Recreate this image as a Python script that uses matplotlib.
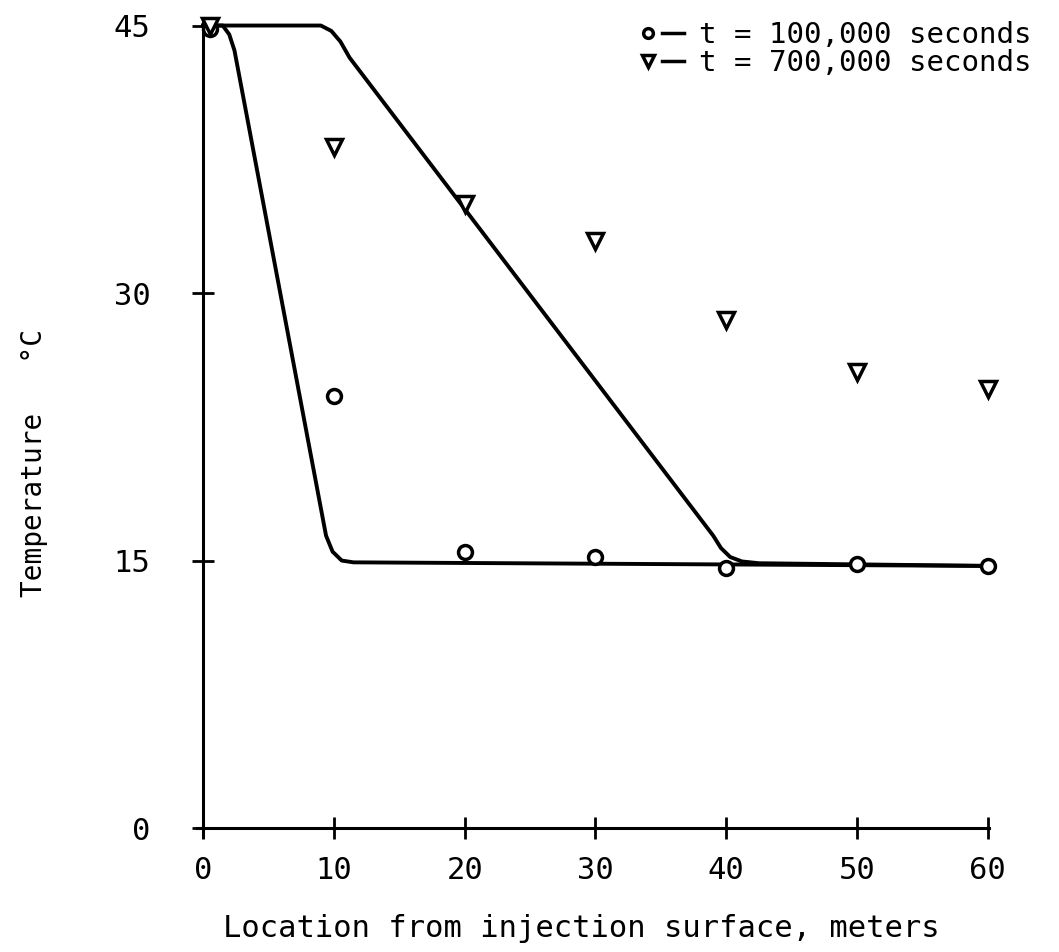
import matplotlib
matplotlib.use("Agg")
import matplotlib.pyplot as plt
from matplotlib.lines import Line2D
from matplotlib.legend_handler import HandlerTuple

# measured points
x_pts = [0.5, 10, 20, 30, 40, 50, 60]
t100k_pts = [44.8, 24.2, 15.5, 15.2, 14.6, 14.8, 14.7]
t700k_pts = [45.0, 38.2, 35.0, 32.9, 28.5, 25.6, 24.6]

# computed curves
x_curve1 = [0, 1.5, 2.0, 2.4, 9.4, 9.9, 10.6, 11.5, 60]
y_curve1 = [45, 45, 44.5, 43.6, 16.4, 15.5, 15.0, 14.9, 14.7]
x_curve2 = [0, 9.0, 9.8, 10.5, 11.2, 39.0, 39.6, 40.3, 41.2, 42.5, 60]
y_curve2 = [45, 45, 44.7, 44.1, 43.2, 16.4, 15.7, 15.2, 14.95, 14.85, 14.7]

xticks = [0, 10, 20, 30, 40, 50, 60]
yticks = [0, 15, 30, 45]

plt.rcParams['font.family'] = ['DejaVu Sans Mono', 'DejaVu Sans']

fig = plt.figure(figsize=(10.59, 9.52), dpi=100)
ax = fig.add_axes([0.1856, 0.1208, 0.7484, 0.858])

ax.plot(x_curve1, y_curve1, color='black', lw=2.8, solid_joinstyle='round')
ax.plot(x_curve2, y_curve2, color='black', lw=2.8, solid_joinstyle='round')
ax.plot(x_pts, t100k_pts, 'o', ms=10, mfc='white', mec='black', mew=2.5, clip_on=False)
ax.plot(x_pts, t700k_pts, 'v', ms=11, mfc='white', mec='black', mew=2.5, clip_on=False)

ax.set_xlim(-0.5, 60.1)
ax.set_ylim(-0.5, 45.3)
ax.spines['top'].set_visible(False)
ax.spines['right'].set_visible(False)
ax.spines['left'].set_position(('data', 0))
ax.spines['bottom'].set_position(('data', 0))
ax.spines['left'].set_linewidth(2.2)
ax.spines['bottom'].set_linewidth(2.2)

ax.set_xticks(xticks)
ax.set_yticks(yticks)
ax.tick_params(axis='both', direction='inout', length=16, width=2, labelsize=22)
ax.tick_params(axis='x', pad=12)
ax.tick_params(axis='y', pad=30)

ax.set_xlabel("Location from injection surface, meters", fontsize=22, va='top')
ax.xaxis.set_label_coords(0.485, -0.094)
ax.set_ylabel("Temperature   °C", fontsize=20)
ax.yaxis.set_label_coords(-0.187, 0.4575)

h1 = (Line2D([], [], marker='o', ls='none', ms=7, mfc='white', mec='black', mew=2.5),
      Line2D([], [], color='black', lw=2.5))
h2 = (Line2D([], [], marker='v', ls='none', ms=8, mfc='white', mec='black', mew=2.5),
      Line2D([], [], color='black', lw=2.5))
fig.legend([h1, h2], ["t = 100,000 seconds", "t = 700,000 seconds"],
           handler_map={tuple: HandlerTuple(ndivide=2, pad=0.1)},
           loc='upper left', bbox_to_anchor=(0.588, 0.993), frameon=False,
           fontsize=21, handlelength=1.6, handletextpad=0.5, labelspacing=0.0,
           borderpad=0.0)

fig.savefig("out.png", dpi=100)
